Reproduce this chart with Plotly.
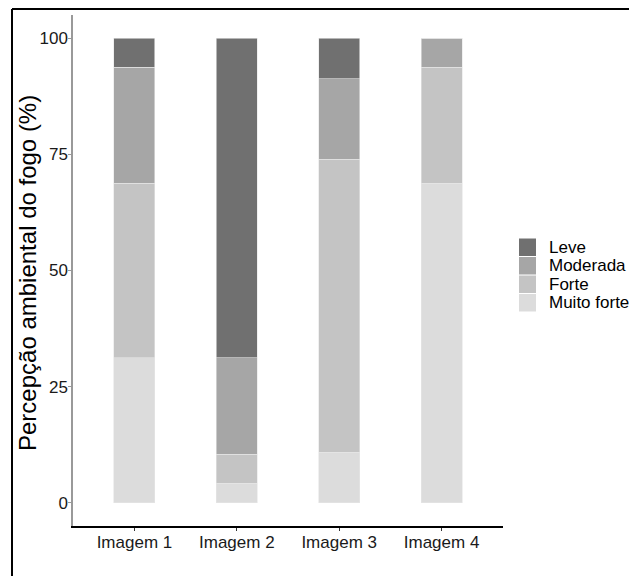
import plotly.graph_objects as go

categories = ["Imagem 1", "Imagem 2", "Imagem 3", "Imagem 4"]
levels = ["Muito forte", "Forte", "Moderada", "Leve"]
muito_forte = [31.25, 4.17, 10.87, 68.75]
forte = [37.5, 6.25, 63.04, 25.0]
moderada = [25.0, 20.83, 17.39, 6.25]
leve = [6.25, 68.75, 8.70, 0.0]
colors = {"Leve": "#707070", "Moderada": "#a6a6a6", "Forte": "#c4c4c4", "Muito forte": "#dcdcdc"}
series = {"Muito forte": muito_forte, "Forte": forte, "Moderada": moderada, "Leve": leve}
y_ticks = [0, 25, 50, 75, 100]

FONT = "Liberation Sans, Arial, sans-serif"
W, H = 629, 576
L, R, T, B = 73, 503, 15, 526

def px(x):
    return (x - L) / (R - L)

def py(y):
    return (B - y) / (B - T)

fig = go.Figure()
for name in levels:
    fig.add_trace(go.Bar(
        x=categories, y=series[name], name=name,
        marker=dict(color=colors[name], line=dict(color="#e6e6e6", width=0.6)),
        width=0.4, showlegend=False,
    ))

shapes = []
annotations = []
# outer frame (left and top edges visible)
shapes.append(dict(type="line", xref="paper", yref="paper",
                   x0=px(12), x1=px(12), y0=py(9), y1=py(H + 5),
                   line=dict(color="black", width=2)))
shapes.append(dict(type="line", xref="paper", yref="paper",
                   x0=px(12), x1=px(W + 5), y0=py(9), y1=py(9),
                   line=dict(color="black", width=2)))

# manual legend
leg_order = ["Leve", "Moderada", "Forte", "Muito forte"]
top = 238
row = 18.5
for i, name in enumerate(leg_order):
    y0 = top + i * row
    shapes.append(dict(type="rect", xref="paper", yref="paper",
                       x0=px(519), x1=px(536), y0=py(y0 + row - 0.5), y1=py(y0 + 0.5),
                       fillcolor=colors[name], line=dict(width=0)))
    annotations.append(dict(xref="paper", yref="paper", x=px(547), y=py(y0 + row / 2),
                            text=name, showarrow=False, xanchor="left", yanchor="middle",
                            font=dict(family=FONT, size=17, color="black")))

# y-axis title as annotation
annotations.append(dict(xref="paper", yref="paper", x=px(27), y=py(273),
                        text="Percepção ambiental do fogo (%)", textangle=-90,
                        showarrow=False, xanchor="center", yanchor="middle",
                        font=dict(family=FONT, size=24, color="black")))

fig.update_layout(
    barmode="stack",
    width=W, height=H,
    margin=dict(l=L, r=W - R, t=T, b=H - B, pad=0),
    paper_bgcolor="white", plot_bgcolor="white",
    font=dict(family=FONT, size=17, color="#1a1a1a"),
    shapes=shapes, annotations=annotations,
    xaxis=dict(range=[-0.6, 3.6], showline=True, linecolor="black", linewidth=1.5,
               ticks="outside", ticklen=3, tickcolor="#333", showgrid=False, zeroline=False,
               tickfont=dict(size=17, color="#1a1a1a"), ticklabelstandoff=-3),
    yaxis=dict(range=[-5, 105], tickvals=y_ticks, showline=True, linecolor="#999",
               linewidth=1.5, ticks="outside", ticklen=3, tickcolor="#999",
               showgrid=False, zeroline=False, tickfont=dict(size=17, color="#1a1a1a"),
               ticklabelstandoff=-3),
)

fig.write_html("out.html", config={"displayModeBar": False},
               post_script="document.body.style.margin='0';document.body.style.overflow='hidden';")
